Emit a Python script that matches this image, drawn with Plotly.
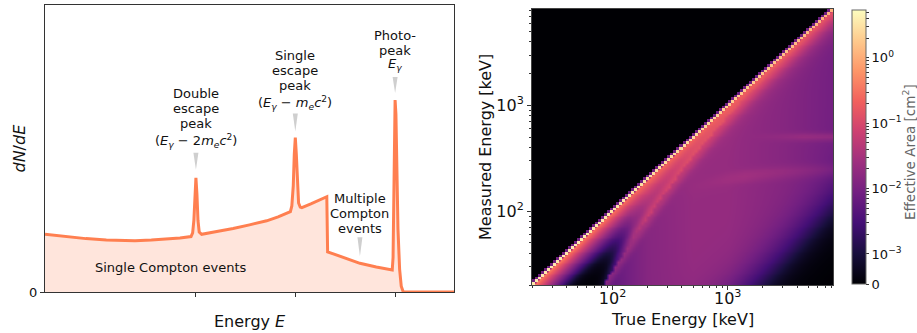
import numpy as np
import plotly.graph_objects as go

FONT = "DejaVu Sans"
W, H = 917, 333

# ---------------- left panel: schematic detector spectrum (arbitrary units) ----------------
spec_energy = [0, 5, 10, 15, 18.3, 22, 26, 30, 33, 35.7,
               36.1, 36.4, 36.65, 36.9, 37.15, 37.4, 37.7, 38.3,
               42, 46, 50, 54.2, 57, 60.0,
               60.35, 60.7, 60.95, 61.2, 61.45, 61.7, 62.0, 62.4, 62.8,
               65, 68.9, 69.1, 73, 77, 81, 84.9,
               85.1, 85.3, 85.45, 85.6, 85.8, 86.0, 86.3, 86.7, 87.1, 87.6, 100]
spec_counts = [20.1, 19.3, 18.6, 18.1, 17.9, 17.9, 18.1, 18.4, 18.8, 19.3,
               20.6, 25.0, 34.0, 39.8, 34.0, 25.0, 20.9, 20.1,
               21.1, 22.1, 23.4, 24.8, 26.2, 28.0,
               30.0, 37.0, 48.0, 53.8, 48.0, 37.0, 31.0, 29.6, 29.4,
               30.7, 33.2, 14.0, 11.9, 10.0, 8.7, 7.7,
               12.0, 40.0, 60.0, 66.9, 62.0, 45.0, 22.0, 8.0, 2.0, 0.0, 0.0]

peak_names = ["double", "single", "photo"]
peak_energy = [36.9, 61.2, 85.6]
peak_height = [39.8, 53.8, 66.9]
multi_point = (77.0, 10.0)
single_compton_point = (30.8, 8.4)

label_lines = {
    "double": ["Double", "escape", "peak",
               "(<i>E</i><sub><i>γ</i></sub> − 2<i>m</i><sub><i>e</i></sub><i>c</i><sup>2</sup>)"],
    "single": ["Single", "escape", "peak",
               "(<i>E</i><sub><i>γ</i></sub> − <i>m</i><sub><i>e</i></sub><i>c</i><sup>2</sup>)"],
    "photo": ["Photo-", "peak", "<i>E</i><sub><i>γ</i></sub>"],
    "multi": ["Multiple", "Compton", "events"],
}

# ---------------- right panel: energy response matrix ----------------
e_min, e_max = 20.0, 8200.0
n_bins = 100
knot_energy = [20, 50, 100, 150, 200, 500, 1000, 3000, 8200]                  # keV
photopeak_area = [3.5, 3.5, 3.2, 3.0, 2.8, 2.4, 2.0, 1.5, 1.1]                # cm^2 on the diagonal
tail_area = [0.45, 0.42, 0.36, 0.3, 0.28, 0.22, 0.2, 0.18, 0.16]              # just below the diagonal
tail_width = [0.05, 0.05, 0.055, 0.06, 0.065, 0.07, 0.07, 0.07, 0.07]         # decades
multi_area = [1e-5, 1e-5, 1e-3, 0.012, 0.025, 0.04, 0.035, 0.022, 0.014]      # edge .. peak
compton_area = [4e-3, 4e-3, 6e-3, 0.01, 0.014, 0.02, 0.02, 0.014, 0.009]      # below Compton edge
upper_smear = 0.008
annihilation_area = 0.01
backscatter_gain = 0.5
ME = 511.0

edges = np.logspace(np.log10(e_min), np.log10(e_max), n_bins + 1)
centers = np.sqrt(edges[:-1] * edges[1:])
lc = np.log10(centers)


def loglog(knots, vals, e):
    return 10 ** np.interp(np.log10(e), np.log10(knots), np.log10(vals))


Et = centers[None, :]
Em = centers[:, None]
ii = np.arange(n_bins)[None, :]
jj = np.arange(n_bins)[:, None]

P = loglog(knot_energy, photopeak_area, Et)
B = loglog(knot_energy, tail_area, Et)
S = loglog(knot_energy, tail_width, Et)
M = loglog(knot_energy, multi_area, Et)
C = loglog(knot_energy, compton_area, Et)

d = np.clip(np.log10(Et / Em), 0, None)
edge = 2 * Et ** 2 / (ME + 2 * Et)
tail = B * np.exp(-d / S)
edge_dist = np.log10(edge / Em)
edge_boost = 1 + 1.6 * np.exp(-0.5 * (edge_dist / 0.06) ** 2)
cont = np.where(Em < edge, C, M) * edge_boost
lowcut = 1 / (1 + (Et / 45 / Em) ** 3)
bs = Et / (1 + 2 * Et / ME)
extra = backscatter_gain * C * np.exp(-0.5 * (np.log10(Em / bs) / 0.04) ** 2) * np.clip((Et - 400) / 1000, 0, 1)
extra += annihilation_area * np.exp(-0.5 * (np.log10(Em / ME) / 0.025) ** 2) * np.clip((Et - 1500) / 3000, 0, 1)

below = np.where(jj < ii, tail + (cont + extra) * lowcut, 0.0)
# continuum layer (smoothed) keeps the tail level on the diagonal so the peak cells stay sharp
smooth_area = np.where(jj == ii, B + M, below)
# sharp layer: photopeak diagonal and the one-bin smear above it
sharp_area = np.full_like(below, np.nan)
sharp_area = np.where(jj == ii, P, sharp_area)
sharp_area = np.where(jj == ii + 1, upper_smear, sharp_area)

# symmetric-log colour mapping: linear below 1e-3, logarithmic above
lin_thresh, lin_width = 1e-3, 0.46


def symlog(v):
    v = np.asarray(v, dtype=float)
    out = np.where(v < lin_thresh, lin_width * v / lin_thresh,
                   lin_width + np.log10(np.maximum(v, lin_thresh) / lin_thresh))
    return np.where(np.isnan(v), np.nan, out)


z_smooth = symlog(smooth_area)
z_sharp = symlog(sharp_area)
z_top = float(symlog(5.4))

cb_major = [0.0, 1e-3, 1e-2, 1e-1, 1.0]
cb_major_text = ["0", "10<sup>−3</sup>", "10<sup>−2</sup>", "10<sup>−1</sup>", "10<sup>0</sup>"]
cb_minor = [m * 10.0 ** p for p in (-3, -2, -1, 0) for m in range(2, 10) if m * 10.0 ** p < 5.4]
cb_vals = list(symlog(cb_major)) + list(symlog(cb_minor))
cb_text = cb_major_text + [""] * len(cb_minor)

axis_major = [2, 3]
axis_major_text = ["10<sup>2</sup>", "10<sup>3</sup>"]
axis_minor = [float(np.log10(m * 10.0 ** p)) for p in (1, 2, 3) for m in range(2, 10)
              if e_min <= m * 10.0 ** p <= e_max]

# ---------------- figure ----------------
fig = go.Figure()

fig.add_trace(go.Scatter(
    x=spec_energy, y=spec_counts, mode="lines",
    line=dict(color="#ff7f50", width=3),
    fill="tozeroy", fillcolor="rgba(255,127,80,0.2)",
    xaxis="x", yaxis="y", showlegend=False, hoverinfo="skip"))

fig.add_trace(go.Heatmap(
    x=lc, y=lc, z=z_smooth, zmin=0, zmax=z_top, colorscale="Magma",
    xaxis="x2", yaxis="y2", zsmooth="best",
    colorbar=dict(
        x=852 / W, xanchor="left", y=(H - 284) / H, yanchor="bottom",
        len=274 / H, lenmode="fraction", thickness=14, xpad=0, ypad=0,
        outlinewidth=1, outlinecolor="#666",
        tickmode="array", tickvals=cb_vals, ticktext=cb_text,
        ticks="outside", ticklen=3, tickcolor="#333",
        tickfont=dict(family=FONT, size=13, color="#111"),
    )))

fig.add_trace(go.Heatmap(
    x=lc, y=lc, z=z_sharp, zmin=0, zmax=z_top, colorscale="Magma",
    xaxis="x2", yaxis="y2", zsmooth=False, showscale=False, hoverongaps=False))

# panel axes
fig.update_layout(
    xaxis=dict(domain=[45 / W, 454 / W], range=[0, 100], showgrid=False, zeroline=False,
               showline=True, linecolor="#333", linewidth=1, mirror=True,
               tickmode="array", tickvals=peak_energy, ticktext=["", "", ""],
               ticks="outside", ticklen=4, tickcolor="#333"),
    yaxis=dict(domain=[(H - 292) / H, (H - 5) / H], range=[0, 100], showgrid=False, zeroline=False,
               showline=True, linecolor="#333", linewidth=1, mirror=True,
               tickmode="array", tickvals=[0], ticktext=["0"], ticks="outside", ticklen=4,
               tickcolor="#333", tickfont=dict(family=FONT, size=13, color="#111")),
    xaxis2=dict(domain=[532 / W, 833 / W], range=[np.log10(e_min), np.log10(e_max)],
                anchor="y2", showgrid=False, zeroline=False,
                showline=True, linecolor="#444", linewidth=1, mirror=True,
                tickmode="array", tickvals=axis_major, ticktext=axis_major_text,
                ticks="outside", ticklen=4, tickcolor="#333", ticklabelstandoff=-5,
                tickfont=dict(family=FONT, size=16, color="#111"),
                minor=dict(tickmode="array", tickvals=axis_minor, ticks="outside",
                           ticklen=2, tickcolor="#333", showgrid=False)),
    yaxis2=dict(domain=[(H - 285) / H, (H - 9) / H], range=[np.log10(e_min), np.log10(e_max)],
                anchor="x2", showgrid=False, zeroline=False,
                showline=True, linecolor="#444", linewidth=1, mirror=True,
                tickmode="array", tickvals=axis_major, ticktext=axis_major_text,
                ticks="outside", ticklen=4, tickcolor="#333",
                tickfont=dict(family=FONT, size=16, color="#111"),
                minor=dict(tickmode="array", tickvals=axis_minor, ticks="outside",
                           ticklen=2, tickcolor="#333", showgrid=False)),
)

annotations = []
shapes = []

label_offsets = {
    "double": [84, 69, 54, 37],
    "single": [82, 67, 52, 35],
    "photo": [65, 50, 36],
    "multi": [65, 50, 35],
}
anchors = {n: (e, h) for n, e, h in zip(peak_names, peak_energy, peak_height)}
anchors["multi"] = multi_point
wedges = {"double": (8, 25), "single": (6, 24), "photo": (7, 23), "multi": (7, 26)}

for name, lines in label_lines.items():
    ax, ay = anchors[name]
    for text, off in zip(lines, label_offsets[name]):
        annotations.append(dict(x=ax, y=ay, xref="x", yref="y", text=text, showarrow=False,
                                xanchor="center", yanchor="middle", yshift=off,
                                font=dict(family=FONT, size=13, color="#111")))
    tip, top = wedges[name]
    shapes.append(dict(type="path", xref="x", yref="y", xsizemode="pixel", ysizemode="pixel",
                       xanchor=ax, yanchor=ay,
                       path=f"M -2.5,{top} L 2.5,{top} L 0,{tip} Z",
                       fillcolor="#cfcfcf", line=dict(width=0)))

annotations.append(dict(x=single_compton_point[0], y=single_compton_point[1], xref="x", yref="y",
                        text="Single Compton events", showarrow=False,
                        xanchor="center", yanchor="middle",
                        font=dict(family=FONT, size=13, color="#111")))


def paper_label(px, py, text, size, angle=0, color="#111"):
    return dict(x=px / W, y=(H - py) / H, xref="paper", yref="paper", showarrow=False,
                xanchor="center", yanchor="middle", textangle=angle, text=text,
                font=dict(family=FONT, size=size, color=color))


# axis and colour-bar titles
annotations += [
    paper_label(249.5, 321, "Energy <i>E</i>", 16),
    paper_label(19, 148.5, "<i>dN</i>/<i>dE</i>", 16, -90),
    paper_label(682.5, 319, "True Energy [keV]", 16),
    paper_label(485, 147, "Measured Energy [keV]", 16, -90),
    paper_label(909, 152, "Effective Area [cm<sup>2</sup>]", 13.5, -90, "#666"),
]

fig.update_layout(
    width=W, height=H, margin=dict(l=0, r=0, t=0, b=0, autoexpand=False),
    paper_bgcolor="white", plot_bgcolor="white",
    font=dict(family=FONT, color="#111"),
    annotations=annotations, shapes=shapes, showlegend=False,
)

fig.write_html("out.html")
